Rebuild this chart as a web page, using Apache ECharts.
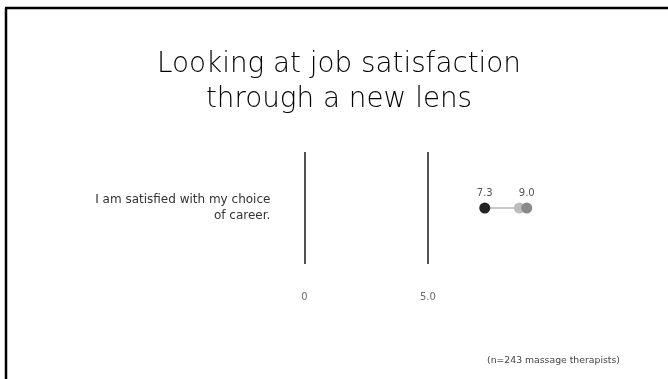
<!DOCTYPE html>
<html>
<head>
<meta charset="utf-8">
<script src="https://cdn.jsdelivr.net/npm/echarts@6/dist/echarts.min.js"></script>
<style>
  html, body { margin: 0; padding: 0; background: #fff; }
  #chart { width: 668px; height: 379px; }
</style>
</head>
<body>
<div id="chart"></div>
<script>
// Survey statement shown on the category axis
const categories = ['I am satisfied with my choice\nof career.'];
// Scores for the statement (three groups)
const darkScores = [7.3];
const lightScores = [8.7];
const midScores = [9.0];
// Value-axis ticks and their labels
const tickValues = [0, 5];
const tickLabels = ['0', '5.0'];

const FONT = 'DejaVu Sans';

const chart = echarts.init(document.getElementById('chart'));

const pairs = arr => arr.map((v, i) => [v, categories[i]]);

const valueLabel = {
  show: true,
  position: 'top',
  distance: 4,
  fontFamily: FONT,
  fontSize: 10,
  color: '#555',
  formatter: p => p.value[0].toFixed(1)
};

chart.setOption({
  animation: false,
  backgroundColor: '#fff',
  grid: { left: 304.4, right: 128.9, top: 152, bottom: 115 },
  xAxis: {
    type: 'value',
    min: 0,
    max: 9.5,
    interval: 5,
    axisLine: { show: false },
    axisTick: { show: false },
    splitLine: {
      show: true,
      showMinLine: true,
      showMaxLine: false,
      lineStyle: { color: '#262626', width: 1.6 }
    },
    axisLabel: {
      margin: 28,
      fontFamily: FONT,
      fontSize: 10,
      color: '#6b6b6b',
      showMaxLabel: false,
      formatter: v => {
        const i = tickValues.indexOf(v);
        return i >= 0 ? tickLabels[i] : '';
      }
    }
  },
  yAxis: {
    type: 'category',
    data: categories,
    axisLine: { show: false },
    axisTick: { show: false },
    splitLine: { show: false },
    axisLabel: {
      margin: 34,
      fontFamily: FONT,
      fontSize: 12,
      lineHeight: 16,
      color: '#333',
      align: 'right'
    }
  },
  graphic: [
    // frame edges
    { type: 'line', shape: { x1: 6, y1: 8, x2: 6, y2: 379 }, style: { stroke: '#000', lineWidth: 2.5 } },
    { type: 'line', shape: { x1: 5, y1: 8, x2: 668, y2: 8 }, style: { stroke: '#000', lineWidth: 2.5 } },
    // heading, centred on its own column
    {
      type: 'text',
      x: 339,
      y: 47,
      style: {
        text: 'Looking at job satisfaction\nthrough a new lens',
        align: 'center',
        verticalAlign: 'top',
        fontFamily: FONT,
        fontSize: 27.8,
        fontWeight: 300,
        lineHeight: 35,
        fill: '#000'
      }
    },
    {
      type: 'text',
      left: 487,
      top: 356,
      style: {
        text: '(n=243 massage therapists)',
        fontFamily: FONT,
        fontSize: 9.3,
        fill: '#444'
      }
    }
  ],
  series: [
    {
      type: 'line',
      data: [pairs(darkScores)[0], pairs(lightScores)[0]],
      symbol: 'none',
      lineStyle: { color: '#c8c8c8', width: 2 },
      z: 1
    },
    {
      type: 'scatter',
      data: pairs(lightScores),
      symbolSize: 11,
      itemStyle: { color: '#bdbdbd', opacity: 1 },
      z: 2
    },
    {
      type: 'scatter',
      data: pairs(midScores),
      symbolSize: 11,
      itemStyle: { color: '#8a8a8a', opacity: 1 },
      label: valueLabel,
      z: 3
    },
    {
      type: 'scatter',
      data: pairs(darkScores),
      symbolSize: 11,
      itemStyle: { color: '#222', opacity: 1 },
      label: valueLabel,
      z: 4
    }
  ]
});
</script>
</body>
</html>
